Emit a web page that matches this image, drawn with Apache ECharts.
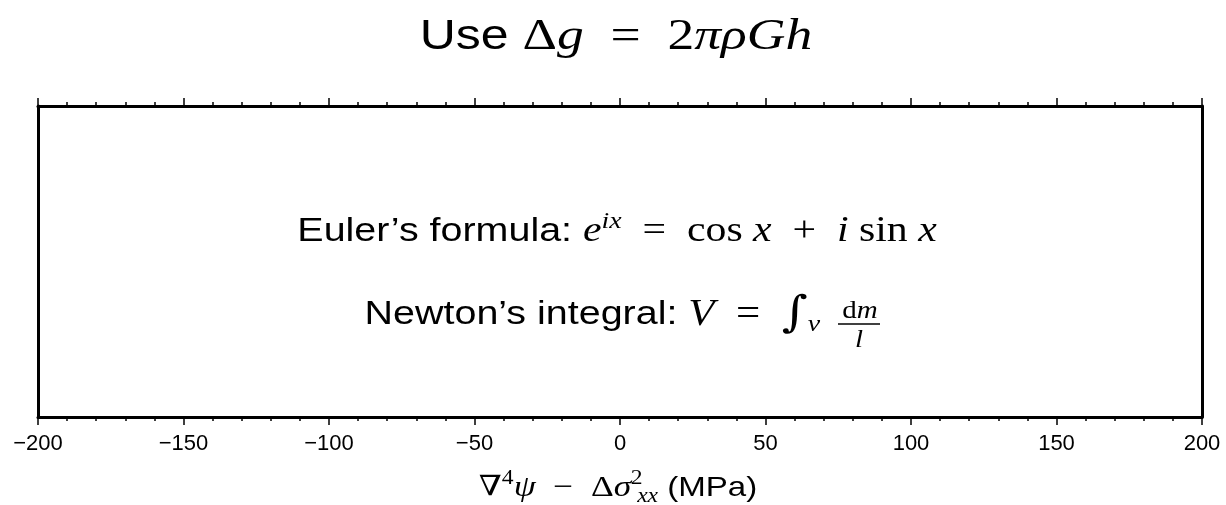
<!DOCTYPE html>
<html>
<head>
<meta charset="utf-8">
<script src="https://cdn.jsdelivr.net/npm/echarts@6/dist/echarts.min.js"></script>
<style>
  html, body { margin: 0; padding: 0; background: #fff; }
  #main { width: 1226px; height: 505px; }
</style>
</head>
<body>
<div id="main"></div>
<script>
// x range and tick labels
var xTicks = [-200, -150, -100, -50, 0, 50, 100, 150, 200];
var xMinorSplit = 5;
var emptySeries = [];

var titleText = '{s|Use }{m|Δ}{mi|g}{m|  =  2}{mi|πρGh}';
var eulerText = '{s|Euler’s formula: }{mi|e}{sup|ix}{m|  =  cos }{mi|x}{m|  +  }{mi|i}{m| sin }{mi|x}';
var newtonText = '{s|Newton’s integral: }{mi|V}{m|  =  }{int|∫}{sub|v}';
var axisName = '{nab|∇}{supm|4}{mi|ψ}{m|  −  Δ}{mi|σ}{sp| }{supz|2}{sub|xx}{s| (MPa)}';

var sans = 'Liberation Sans';
var serif = 'Liberation Serif';
var stretch = 1.16;   // the reference text is a bit wider than Liberation

// rich styles for the math bits (zrender style names, used by graphic texts)
function mathRich(size, msize, ssize, lh, suph, subh) {
    return {
        s: { fontFamily: sans, fontSize: size, fill: '#000', lineHeight: lh, verticalAlign: 'middle' },
        m: { fontFamily: serif, fontSize: msize, fill: '#000', lineHeight: lh, verticalAlign: 'middle' },
        mi: { fontFamily: serif, fontStyle: 'italic', fontSize: msize, fill: '#000', lineHeight: lh, verticalAlign: 'middle' },
        sp: { fontFamily: serif, fontSize: 16, fill: '#000', lineHeight: lh, verticalAlign: 'middle' },
        nab: { fontFamily: 'DejaVu Serif', fontSize: msize - 2, fill: '#000', lineHeight: lh, verticalAlign: 'middle' },
        int: { fontFamily: 'DejaVu Serif', fontSize: msize + 6, fill: '#000', lineHeight: lh, verticalAlign: 'middle' },
        sup: { fontFamily: serif, fontStyle: 'italic', fontSize: ssize, fill: '#000', lineHeight: suph, verticalAlign: 'top' },
        supm: { fontFamily: serif, fontSize: ssize, fill: '#000', lineHeight: suph, verticalAlign: 'top' },
        // superscript that takes no room, so the subscript sits under it
        supz: { fontFamily: serif, fontSize: ssize, fill: '#000', lineHeight: suph, verticalAlign: 'top', width: 1, align: 'left' },
        sub: { fontFamily: serif, fontStyle: 'italic', fontSize: ssize, fill: '#000', lineHeight: subh, verticalAlign: 'bottom' }
    };
}

var myChart = echarts.init(document.getElementById('main'));

var axisCommon = {
    type: 'value',
    min: xTicks[0],
    max: xTicks[xTicks.length - 1],
    interval: xTicks[1] - xTicks[0],
    axisLine: { show: true, onZero: false, lineStyle: { color: '#000', width: 3 } },
    axisTick: { show: true, length: 8, lineStyle: { color: '#000', width: 1.5 } },
    minorTick: { show: true, splitNumber: xMinorSplit, length: 4, lineStyle: { color: '#000', width: 1.5 } },
    splitLine: { show: false },
    minorSplitLine: { show: false }
};

var yCommon = {
    type: 'value', min: 0, max: 1,
    axisLine: { show: true, onZero: false, lineStyle: { color: '#000', width: 3 } },
    axisTick: { show: false }, axisLabel: { show: false }, splitLine: { show: false }
};

option = {
    animation: false,
    backgroundColor: '#fff',
    grid: { left: 38, right: 24, top: 106, bottom: 88, containLabel: false, outerBoundsMode: 'none' },
    xAxis: [
        Object.assign({}, axisCommon, {
            position: 'bottom',
            axisLabel: {
                show: true,
                margin: 16,
                fontFamily: sans,
                fontSize: 22,
                color: '#000',
                formatter: function (v) { return String(v).replace('-', '−'); }
            }
        }),
        Object.assign({}, axisCommon, {
            position: 'top',
            axisLabel: { show: false }
        })
    ],
    yAxis: [
        Object.assign({}, yCommon, { position: 'left' }),
        Object.assign({}, yCommon, { position: 'right' })
    ],
    graphic: [
        {
            type: 'text', x: 616, y: 37, scaleX: 1.19,
            style: { text: titleText, align: 'center', verticalAlign: 'middle', rich: mathRich(42, 45, 30, 50, 30, 30) }
        },
        {
            type: 'text', x: 617, y: 232, scaleX: stretch,
            style: { text: eulerText, align: 'center', verticalAlign: 'middle', rich: mathRich(34, 36, 24, 44, 24, 24) }
        },
        {
            type: 'text', x: 820, y: 315, scaleX: stretch,
            style: { text: newtonText, align: 'right', verticalAlign: 'middle', rich: mathRich(34, 37, 24, 44, 24, 17) }
        },
        {
            type: 'text', x: 860, y: 311, scaleX: stretch,
            style: { text: '{m|d}{mi|m}', align: 'center', verticalAlign: 'middle', rich: mathRich(24, 25, 18, 28, 18, 18) }
        },
        {
            type: 'line', shape: { x1: 838, y1: 324, x2: 880, y2: 324 },
            style: { stroke: '#000', lineWidth: 1.5 }
        },
        {
            type: 'text', x: 859, y: 340, scaleX: stretch,
            style: { text: '{mi|l}', align: 'center', verticalAlign: 'middle', rich: mathRich(24, 25, 18, 28, 18, 18) }
        },
        {
            type: 'text', x: 618, y: 488, scaleX: 1.18,
            style: { text: axisName, align: 'center', verticalAlign: 'middle', rich: mathRich(28, 30, 20, 38, 14, 16) }
        }
    ],
    series: [
        { type: 'line', xAxisIndex: 0, yAxisIndex: 0, data: emptySeries }
    ]
};

myChart.setOption(option);
</script>
</body>
</html>
